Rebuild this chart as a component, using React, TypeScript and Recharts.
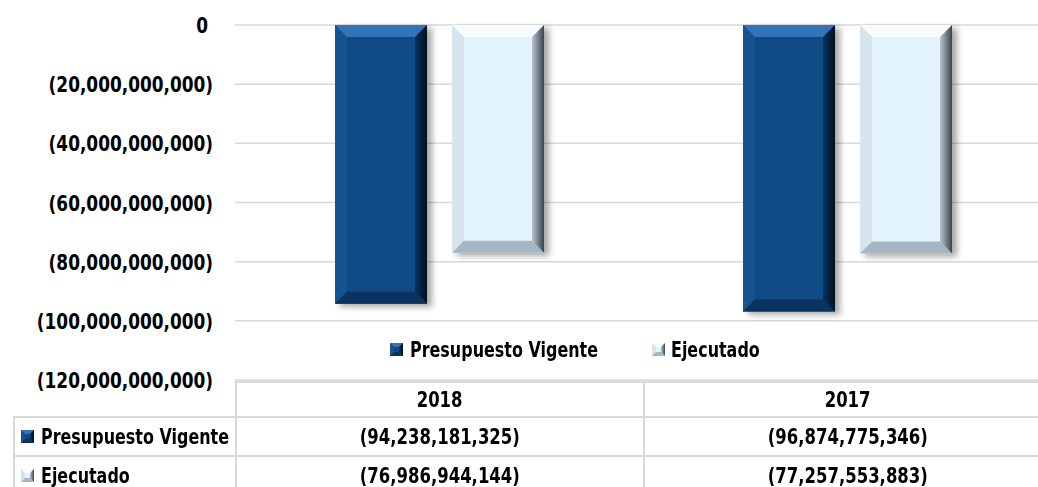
import React from 'react';
import { BarChart, Bar, XAxis, YAxis, CartesianGrid } from 'recharts';

const categories = ['2018', '2017'];
const seriesNames = ['Presupuesto Vigente', 'Ejecutado'];
const presupuestoVigente = [-94238181325, -96874775346];
const ejecutado = [-76986944144, -77257553883];
const yTicks = [0, -20000000000, -40000000000, -60000000000, -80000000000, -100000000000, -120000000000];

const data = categories.map((c, i) => ({ cat: c, pv: presupuestoVigente[i], ej: ejecutado[i] }));

const FONT = '"DejaVu Sans", sans-serif';
const FS = 22;
const SX_AXIS = 0.77;
const SX_NUM = 0.75;
const SX_TXT = 0.725;
const GRID = '#d9d9d9';

const fmt = (v: number) => (v === 0 ? '0' : `(${Math.abs(v).toLocaleString('en-US')})`);

type Pal = { face: string; top: string; left: string; right1: string; right2: string; bottom: string };
const PAL_PV: Pal = { face: '#104a85', top: '#3373b6', left: '#155290', right1: '#0b3563', right2: '#010d1c', bottom: '#0a3360' };
const PAL_EJ: Pal = { face: '#e3f3fd', top: '#f8fcff', left: '#d6e4ee', right1: '#b7c4cf', right2: '#3b444d', bottom: '#a6b5c3' };

function Bevel({ x, y, w, h, b, pal, id, shadow }: { x: number; y: number; w: number; h: number; b: number; pal: Pal; id: string; shadow?: boolean }) {
  return (
    <g>
      <defs>
        <linearGradient id={`rg-${id}`} x1="0" y1="0" x2="1" y2="0">
          <stop offset="0" stopColor={pal.right1} />
          <stop offset="1" stopColor={pal.right2} />
        </linearGradient>
        <filter id={`sh-${id}`} x="-20%" y="-20%" width="140%" height="140%">
          <feGaussianBlur stdDeviation="3" />
        </filter>
      </defs>
      {shadow && <rect x={x + 5} y={y + 3} width={w} height={h} fill="rgba(0,0,0,0.35)" filter={`url(#sh-${id})`} />}
      <rect x={x} y={y} width={w} height={h} fill={pal.face} />
      <polygon points={`${x},${y} ${x + w},${y} ${x + w - b},${y + b} ${x + b},${y + b}`} fill={pal.top} />
      <polygon points={`${x},${y} ${x + b},${y + b} ${x + b},${y + h - b} ${x},${y + h}`} fill={pal.left} />
      <polygon points={`${x},${y + h} ${x + w},${y + h} ${x + w - b},${y + h - b} ${x + b},${y + h - b}`} fill={pal.bottom} />
      <polygon points={`${x + w},${y} ${x + w},${y + h} ${x + w - b},${y + h - b} ${x + w - b},${y + b}`} fill={`url(#rg-${id})`} />
    </g>
  );
}

const makeShape = (pal: Pal, id: string) => (props: any) => {
  const { x, y, width, height } = props;
  const top = Math.min(y, y + height);
  const h = Math.abs(height);
  const b = Math.min(12, h / 2, width / 2);
  return <Bevel x={x} y={top} w={width} h={h} b={b} pal={pal} id={id} shadow />;
};

const YTick = (props: any) => {
  const { x, y, payload } = props;
  const v = payload.value as number;
  return (
    <g transform={`translate(${v === 0 ? x - 5 : x},${y}) scale(${SX_AXIS},1)`}>
      <text x={0} y={0} dy={8} textAnchor="end" fontFamily={FONT} fontWeight="bold" fontSize={FS} fill="#000">
        {fmt(v)}
      </text>
    </g>
  );
};

const Icon = ({ pal, id }: { pal: Pal; id: string }) => (
  <svg width={14} height={14} style={{ display: 'block', flex: '0 0 auto' }}>
    <Bevel x={0} y={0} w={13} h={13} b={4} pal={pal} id={id} />
  </svg>
);

const txtStyle = (sx: number, origin: string): React.CSSProperties => ({
  display: 'inline-block',
  transform: `scaleX(${sx})`,
  transformOrigin: origin,
  fontFamily: FONT,
  fontWeight: 'bold',
  fontSize: FS,
  color: '#000',
  whiteSpace: 'nowrap',
  lineHeight: '24px',
  flex: '0 0 auto',
});

const cellBorder = `2px solid ${GRID}`;
const tdBase: React.CSSProperties = { border: cellBorder, padding: 0, textAlign: 'center', whiteSpace: 'nowrap', overflow: 'hidden' };
const tdLabel: React.CSSProperties = { ...tdBase, textAlign: 'left', paddingLeft: 6, overflow: 'visible' };

export default function App() {
  return (
    <div style={{ position: 'absolute', left: 0, top: 0, width: 1038, height: 487, overflow: 'hidden', background: '#fff' }}>
      <BarChart width={1051} height={400} data={data} margin={{ top: 25, right: 0, bottom: 20, left: 0 }} barSize={92} barGap={25}>
        <CartesianGrid vertical={false} stroke={GRID} strokeWidth={1.5} />
        <XAxis dataKey="cat" hide />
        <YAxis
          width={235}
          domain={[-120000000000, 0]}
          ticks={yTicks}
          axisLine={false}
          tickLine={false}
          tickSize={0}
          tickMargin={22}
          tick={<YTick />}
          interval={0}
        />
        <Bar dataKey="pv" name={seriesNames[0]} isAnimationActive={false} shape={makeShape(PAL_PV, 'pv')} />
        <Bar dataKey="ej" name={seriesNames[1]} isAnimationActive={false} shape={makeShape(PAL_EJ, 'ej')} />
      </BarChart>
      <div style={{ position: 'absolute', top: 338, left: 390, display: 'flex', alignItems: 'center' }}>
        <div style={{ width: 262, display: 'flex', alignItems: 'center', overflow: 'visible' }}>
          <Icon pal={PAL_PV} id="lg-pv" />
          <span style={{ ...txtStyle(SX_TXT, 'left center'), marginLeft: 6 }}>{seriesNames[0]}</span>
        </div>
        <div style={{ display: 'flex', alignItems: 'center' }}>
          <Icon pal={PAL_EJ} id="lg-ej" />
          <span style={{ ...txtStyle(SX_TXT, 'left center'), marginLeft: 5 }}>{seriesNames[1]}</span>
        </div>
      </div>
      <table style={{ position: 'absolute', top: 381, left: 13, borderCollapse: 'collapse', tableLayout: 'fixed', width: 1038 }}>
        <colgroup>
          <col style={{ width: 222 }} />
          <col style={{ width: 408 }} />
          <col style={{ width: 408 }} />
        </colgroup>
        <tbody>
          <tr style={{ height: 35 }}>
            <td style={{ ...tdBase, borderTop: 'none', borderLeft: 'none', borderBottom: cellBorder }} />
            {categories.map((c) => (
              <td key={c} style={tdBase}>
                <span style={txtStyle(SX_NUM, 'center')}>{c}</span>
              </td>
            ))}
          </tr>
          <tr style={{ height: 39 }}>
            <td style={tdLabel}>
              <div style={{ display: 'flex', alignItems: 'center', width: 300 }}>
                <Icon pal={PAL_PV} id="tb-pv" />
                <span style={{ ...txtStyle(SX_TXT, 'left center'), marginLeft: 6 }}>{seriesNames[0]}</span>
              </div>
            </td>
            {presupuestoVigente.map((v, i) => (
              <td key={i} style={tdBase}>
                <span style={txtStyle(SX_NUM, 'center')}>{fmt(v)}</span>
              </td>
            ))}
          </tr>
          <tr style={{ height: 39 }}>
            <td style={tdLabel}>
              <div style={{ display: 'flex', alignItems: 'center', width: 300 }}>
                <Icon pal={PAL_EJ} id="tb-ej" />
                <span style={{ ...txtStyle(SX_TXT, 'left center'), marginLeft: 6 }}>{seriesNames[1]}</span>
              </div>
            </td>
            {ejecutado.map((v, i) => (
              <td key={i} style={tdBase}>
                <span style={txtStyle(SX_NUM, 'center')}>{fmt(v)}</span>
              </td>
            ))}
          </tr>
        </tbody>
      </table>
    </div>
  );
}
